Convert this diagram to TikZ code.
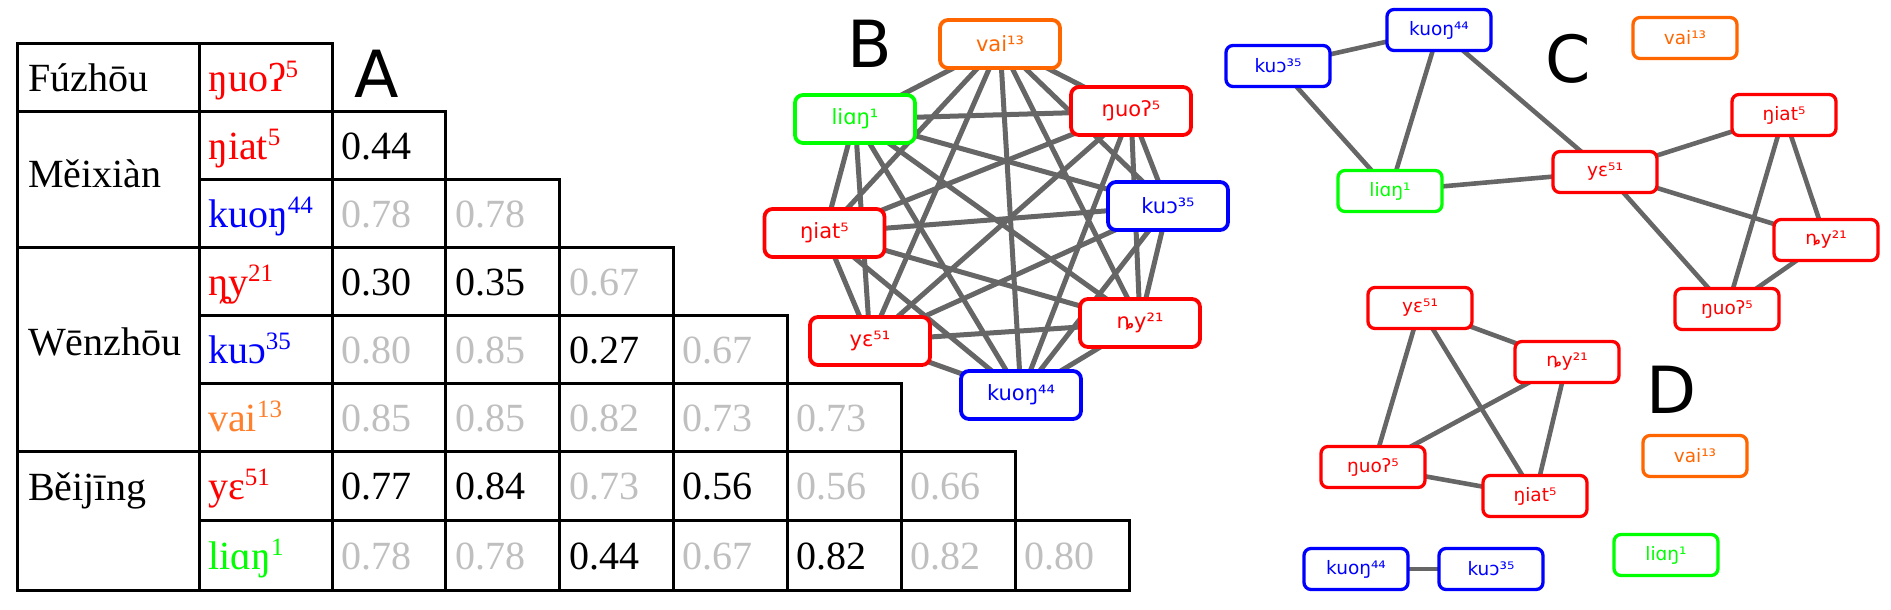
\documentclass[tikz,border=0pt]{standalone}
\usepackage{fontspec}
\setmainfont{Liberation Serif}
\newfontfamily\gfont{DejaVu Sans}
\usetikzlibrary{backgrounds}
\definecolor{cred}{HTML}{FF0000}
\definecolor{cblue}{HTML}{0000FF}
\definecolor{cgreen}{HTML}{00FF00}
\definecolor{corange}{HTML}{FF6600}
\definecolor{ctorange}{HTML}{FF7F2A}
\definecolor{cgray}{HTML}{BFBFBF}
\definecolor{cedge}{HTML}{666666}
\newcommand\spr[1]{\raisebox{14pt}{\fontsize{25}{25}\selectfont #1}}
\begin{document}
\begin{tikzpicture}[x=1pt,y=-1pt,
  tline/.style={draw=black,line width=3pt},
  ttext/.style={anchor=base west,inner sep=0pt,font=\fontsize{40}{48}\selectfont},
  tk/.style={ttext,text=black},
  tg/.style={ttext,text=cgray},
  bnode/.style={draw=#1,text=#1,fill=white,rounded corners=8pt,line width=3.8pt,
    minimum width=120pt,minimum height=48pt,inner sep=0pt,font=\gfont\fontsize{21}{25}\selectfont},
  snode/.style={draw=#1,text=#1,fill=white,rounded corners=7pt,line width=3.3pt,
    minimum width=104pt,minimum height=41pt,inner sep=0pt,font=\gfont\fontsize{18.5}{22}\selectfont},
  bedge/.style={draw=cedge,line width=5pt},
  sedge/.style={draw=cedge,line width=4.6pt},
  biglabel/.style={inner sep=0pt,font=\gfont\fontsize{65}{78}\selectfont}]
\useasboundingbox (0,0) rectangle (1891,610);

% ---------------- table A ----------------
\draw[tline] (17,44) rectangle (199,111);
\draw[tline] (17,111) rectangle (199,247);
\draw[tline] (17,247) rectangle (199,451);
\draw[tline] (17,451) rectangle (199,590);
\foreach \yt/\yb in {44/111,111/179,179/247,247/315,315/383,383/451,451/520,520/590}
  \draw[tline] (199,\yt) rectangle (332,\yb);

\node[tk] (rf) at (28,92) {Fúzhōu};
\node[tk] (rm) at (28,187) {Měixiàn};
\node[tk] (rw) at (28,355) {Wēnzhōu};
\node[tk] (rb) at (28,500) {Běijīng};

\node[ttext,text=cred]    (w1) at (208,91.5) {ŋuoʔ\spr{5}};
\node[ttext,text=cred]    (w2) at (208,159) {ŋiat\spr{5}};
\node[ttext,text=cblue]   (w3) at (208,227) {kuoŋ\spr{44}};
\node[ttext,text=cred]    (w4) at (208,295) {ȵy\spr{21}};
\node[ttext,text=cblue]   (w5) at (208,363) {kuɔ\spr{35}};
\node[ttext,text=ctorange](w6) at (208,431) {vai\spr{13}};
\node[ttext,text=cred]    (w7) at (208,499.5) {yɛ\spr{51}};
\node[ttext,text=cgreen]  (w8) at (208,569) {liɑŋ\spr{1}};

\foreach \r/\yt/\yb/\vals in {
  2/111/179/{0.44/k},
  3/179/247/{0.78/g,0.78/g},
  4/247/315/{0.30/k,0.35/k,0.67/g},
  5/315/383/{0.80/g,0.85/g,0.27/k,0.67/g},
  6/383/451/{0.85/g,0.85/g,0.82/g,0.73/g,0.73/g},
  7/451/520/{0.77/k,0.84/k,0.73/g,0.56/k,0.56/g,0.66/g},
  8/520/590/{0.78/g,0.78/g,0.44/k,0.67/g,0.82/k,0.82/g,0.80/g}}{
  \foreach \v/\s [count=\i] in \vals {
    \pgfmathsetmacro\xl{332+113.9*(\i-1)}
    \pgfmathsetmacro\yy{(\yt+\yb)/2+14}
    \draw[tline] (\xl,\yt) rectangle ++(113.9,\yb-\yt);
    \node[t\s] (c\r-\i) at (\xl+9,\yy) {\v};
  }
}
\node[biglabel] (la) at (377,74) {A};

% ---------------- graph B ----------------
\node[biglabel] (lb) at (870,44) {B};
\node[bnode=corange] (bv) at (1000,44) {vai¹³};
\node[bnode=cgreen]  (bl) at (855,119) {liɑŋ¹};
\node[bnode=cred]    (bn) at (1131,111) {ŋuoʔ⁵};
\node[bnode=cblue]   (bk) at (1168,206) {kuɔ³⁵};
\node[bnode=cred]    (bi) at (824.5,233) {ŋiat⁵};
\node[bnode=cred]    (by) at (1140,323) {ȵy²¹};
\node[bnode=cred]    (be) at (870,341) {yɛ⁵¹};
\node[bnode=cblue]   (bg) at (1021,395) {kuoŋ⁴⁴};
\begin{scope}[on background layer]
\foreach \a/\b in {bv/bl,bv/bn,bv/bk,bv/bi,bv/by,bv/be,bv/bg,
  bl/bn,bl/bk,bl/bi,bl/by,bl/be,bl/bg,
  bn/bk,bn/bi,bn/by,bn/be,bn/bg,
  bk/bi,bk/by,bk/be,bk/bg,
  bi/by,bi/be,bi/bg,
  by/be,by/bg,be/bg}
  \draw[bedge] (\a.center) -- (\b.center);
\end{scope}

% ---------------- graph C ----------------
\node[biglabel] (lc) at (1568,59) {C};
\node[snode=cblue]   (ck) at (1278,66) {kuɔ³⁵};
\node[snode=cblue]   (cg) at (1439,30) {kuoŋ⁴⁴};
\node[snode=corange] (cv) at (1685,38) {vai¹³};
\node[snode=cgreen]  (cl) at (1390,191) {liɑŋ¹};
\node[snode=cred]    (ce) at (1605,172) {yɛ⁵¹};
\node[snode=cred]    (ci) at (1784,115) {ŋiat⁵};
\node[snode=cred]    (cy) at (1826,240) {ȵy²¹};
\node[snode=cred]    (cn) at (1727,309) {ŋuoʔ⁵};
\begin{scope}[on background layer]
\foreach \a/\b in {ck/cg,ck/cl,cg/cl,cg/ce,cl/ce,ce/ci,ce/cy,ce/cn,ci/cy,ci/cn,cy/cn}
  \draw[sedge] (\a.center) -- (\b.center);
\end{scope}

% ---------------- graph D ----------------
\node[biglabel] (ld) at (1672,390) {D};
\node[snode=cred]    (de) at (1420,308) {yɛ⁵¹};
\node[snode=cred]    (dy) at (1567,362) {ȵy²¹};
\node[snode=corange] (dv) at (1695,456) {vai¹³};
\node[snode=cred]    (dn) at (1373,467) {ŋuoʔ⁵};
\node[snode=cred]    (di) at (1535,496) {ŋiat⁵};
\node[snode=cgreen]  (dl) at (1666,555) {liɑŋ¹};
\node[snode=cblue]   (dg) at (1356,569) {kuoŋ⁴⁴};
\node[snode=cblue]   (dk) at (1491,569) {kuɔ³⁵};
\begin{scope}[on background layer]
\foreach \a/\b in {de/dy,de/dn,de/di,dy/dn,dy/di,dn/di,dg/dk}
  \draw[sedge] (\a.center) -- (\b.center);
\end{scope}
\end{tikzpicture}
\end{document}
